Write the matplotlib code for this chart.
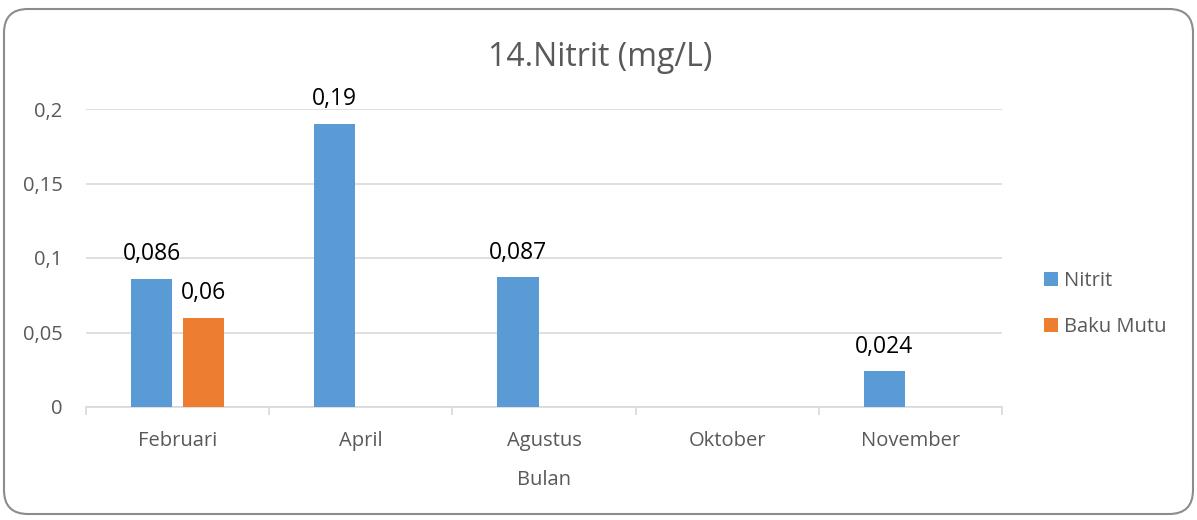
import numpy as np
import matplotlib
matplotlib.use("Agg")
import matplotlib.pyplot as plt
from matplotlib.patches import FancyBboxPatch, Patch

plt.rcParams['font.family'] = ['Open Sans', 'DejaVu Sans']

categories = ["Februari", "April", "Agustus", "Oktober", "November"]
nitrit = [0.086, 0.19, 0.087, np.nan, 0.024]
baku_mutu = [0.06, np.nan, np.nan, np.nan, np.nan]
nitrit_labels = ["0,086", "0,19", "0,087", "", "0,024"]
baku_labels = ["0,06", "", "", "", ""]
yticks = [0, 0.05, 0.1, 0.15, 0.2]
ytick_labels = ["0", "0,05", "0,1", "0,15", "0,2"]

blue = "#5B9BD5"
orange = "#ED7D31"
grey_text = "#595959"
grid_c = "#D9D9D9"

fig = plt.figure(figsize=(11.97, 5.2), dpi=100)
border = FancyBboxPatch((4/1197, 6/520), 1189/1197, 505/520,
                        boxstyle="round,pad=0,rounding_size=0.02",
                        transform=fig.transFigure, facecolor="white",
                        edgecolor="#8C8C8C", linewidth=1.5, mutation_aspect=1197/520,
                        zorder=-10)
fig.patches.append(border)

ax = fig.add_axes([86/1197, 1-407/520, (1002-86)/1197, (407-109)/520])
ax.set_facecolor("none")
x = np.arange(len(categories))
w = 0.224
off = 0.142
ax.bar(x - off, nitrit, w, color=blue, zorder=3)
ax.bar(x + off, baku_mutu, w, color=orange, zorder=3)

for xs, vals, labs in ((x - off, nitrit, nitrit_labels), (x + off, baku_mutu, baku_labels)):
    for xi, v, lab in zip(xs, vals, labs):
        if lab:
            ax.annotate(lab, (xi, v), xytext=(0, 9), textcoords="offset points",
                        ha="center", va="bottom", fontsize=16.5, color="#000000")

ax.set_xlim(-0.5, len(categories) - 0.5)
ax.set_ylim(0, 0.2)
ax.set_yticks(yticks)
ax.set_yticklabels(ytick_labels)
ax.yaxis.grid(True, color=grid_c, linewidth=1.2, zorder=0)
ax.tick_params(axis="y", length=0, labelsize=14.5, labelcolor=grey_text, pad=17)
ax.set_xticks(x)
ax.set_xticklabels(categories)
ax.tick_params(axis="x", length=0, labelsize=14.5, labelcolor=grey_text, pad=17)
ax.set_xticks(np.arange(len(categories) + 1) - 0.5, minor=True)
ax.tick_params(axis="x", which="minor", length=6, color=grid_c, width=1.2)
for s in ["top", "right", "left"]:
    ax.spines[s].set_visible(False)
ax.spines["bottom"].set_color(grid_c)
ax.spines["bottom"].set_linewidth(1.2)
ax.set_xlabel("Bulan", fontsize=14.5, color=grey_text, labelpad=14)

fig.text(600/1197, 1-58/520, "14.Nitrit (mg/L)", ha="center", va="center",
         fontsize=23, color=grey_text)

handles = [Patch(facecolor=blue), Patch(facecolor=orange)]
fig.legend(handles, ["Nitrit", "Baku Mutu"], loc="center left",
           bbox_to_anchor=(1026/1197, 1-304/520), frameon=False,
           fontsize=14.5, labelspacing=1.3, handlelength=0.7, handleheight=0.7,
           handletextpad=0.3, labelcolor=grey_text)

fig.savefig("out.png", dpi=100)
